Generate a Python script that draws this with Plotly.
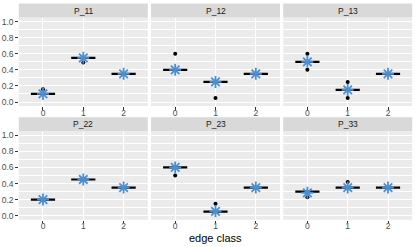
import plotly.graph_objects as go

# ---- data ----
panels = ["P_11", "P_12", "P_13", "P_22", "P_23", "P_33"]
categories = [0, 1, 2]
cat_labels = ["0", "1", "2"]
medians = [
    [0.10, 0.55, 0.35],
    [0.40, 0.25, 0.35],
    [0.50, 0.15, 0.35],
    [0.20, 0.45, 0.35],
    [0.60, 0.05, 0.35],
    [0.30, 0.35, 0.35],
]
means = [
    [0.10, 0.55, 0.35],
    [0.40, 0.25, 0.35],
    [0.50, 0.15, 0.35],
    [0.20, 0.45, 0.35],
    [0.60, 0.055, 0.35],
    [0.285, 0.35, 0.35],
]
outlier_cat = [
    [0, 1],
    [0, 1],
    [0, 0, 1, 1],
    [],
    [0, 1],
    [0, 1],
]
outlier_val = [
    [0.16, 0.49],
    [0.60, 0.05],
    [0.60, 0.40, 0.25, 0.05],
    [],
    [0.50, 0.15],
    [0.23, 0.42],
]
y_ticks = [0.0, 0.2, 0.4, 0.6, 0.8, 1.0]
y_ticklabels = ["0.0", "0.2", "0.4", "0.6", "0.8", "1.0"]
y_minor = [0.1, 0.3, 0.5, 0.7, 0.9]

# ---- layout geometry (pixels) ----
W, H = 415, 247
col_x0 = [18.8, 151.0, 283.2]
panel_w = 129.0
row_top = [16.7, 131.3]    # panel top (below strip)
panel_h = 89.2
strip_h = 14.2
half_w = 0.3

FONT = "Liberation Sans, Arial, Helvetica, sans-serif"
STAR = "#4A8FD4"

fig = go.Figure()
shapes = []
annotations = []

for i, name in enumerate(panels):
    r, c = divmod(i, 3)
    ax = "" if i == 0 else str(i + 1)
    xref, yref = "x" + ax, "y" + ax
    x0p = col_x0[c]
    x1p = x0p + panel_w
    y0p = row_top[r]
    y1p = y0p + panel_h

    # median segments
    xs, ys = [], []
    for cat, m in zip(categories, medians[i]):
        xs += [cat - half_w, cat + half_w, None]
        ys += [m, m, None]
    fig.add_trace(go.Scatter(x=xs, y=ys, mode="lines",
                             line=dict(color="black", width=2.2),
                             xaxis=xref, yaxis=yref, showlegend=False,
                             hoverinfo="skip"))
    # outlier points
    if outlier_cat[i]:
        fig.add_trace(go.Scatter(x=outlier_cat[i], y=outlier_val[i], mode="markers",
                                 marker=dict(color="black", size=4),
                                 xaxis=xref, yaxis=yref, showlegend=False))
    # mean stars
    fig.add_trace(go.Scatter(x=categories, y=means[i], mode="markers",
                             marker=dict(symbol="asterisk-open", size=10, color=STAR,
                                         line=dict(color=STAR, width=1.8)),
                             xaxis=xref, yaxis=yref, showlegend=False))

    xkey = "xaxis" + ax
    ykey = "yaxis" + ax
    fig.layout[xkey] = dict(
        domain=[x0p / W, x1p / W], anchor=yref, range=[-0.6, 2.6],
        tickvals=categories, ticktext=cat_labels,
        showgrid=True, gridcolor="white", gridwidth=1,
        zeroline=False, showline=False,
        ticks="outside", ticklen=2.5, tickwidth=1, tickcolor="#333333",
        ticklabelstandoff=-4,
        tickfont=dict(family=FONT, size=8.5, color="#4D4D4D"),
        fixedrange=True,
    )
    fig.layout[ykey] = dict(
        domain=[1 - y1p / H, 1 - y0p / H], anchor=xref, range=[-0.05, 1.05],
        tickvals=y_ticks, ticktext=y_ticklabels,
        showticklabels=(c == 0),
        showgrid=True, gridcolor="white", gridwidth=1,
        minor=dict(tickvals=y_minor, showgrid=True, gridcolor="white",
                   gridwidth=0.5, ticks=""),
        zeroline=False, showline=False,
        ticks="outside" if c == 0 else "", ticklen=2.5, tickwidth=1,
        tickcolor="#333333",
        tickfont=dict(family=FONT, size=8.5, color="#4D4D4D"),
        fixedrange=True,
    )
    # panel background
    shapes.append(dict(type="rect", xref="paper", yref="paper",
                       x0=x0p / W, x1=x1p / W, y0=1 - y1p / H, y1=1 - y0p / H,
                       fillcolor="#EBEBEB", line=dict(width=0), layer="below"))
    # strip
    shapes.append(dict(type="rect", xref="paper", yref="paper",
                       x0=x0p / W, x1=x1p / W,
                       y0=1 - y0p / H, y1=1 - (y0p - strip_h) / H,
                       fillcolor="#D9D9D9", line=dict(width=0)))
    annotations.append(dict(text=name, xref="paper", yref="paper",
                            x=(x0p + x1p) / 2 / W,
                            y=1 - (y0p - strip_h / 2) / H,
                            showarrow=False, xanchor="center", yanchor="middle",
                            font=dict(family=FONT, size=8.5, color="#1A1A1A")))

annotations.append(dict(text="edge class", xref="paper", yref="paper",
                        x=(col_x0[0] + col_x0[2] + panel_w) / 2 / W,
                        y=1 - 238.5 / H, showarrow=False,
                        xanchor="center", yanchor="middle",
                        font=dict(family=FONT, size=11, color="black")))

fig.update_layout(
    width=W, height=H, margin=dict(l=0, r=0, t=0, b=0),
    paper_bgcolor="white", plot_bgcolor="rgba(0,0,0,0)",
    shapes=shapes, annotations=annotations, showlegend=False,
)

fig.write_html("out.html", config={"displayModeBar": False},
               post_script="document.body.style.margin='0px';document.body.style.overflow='hidden';")
